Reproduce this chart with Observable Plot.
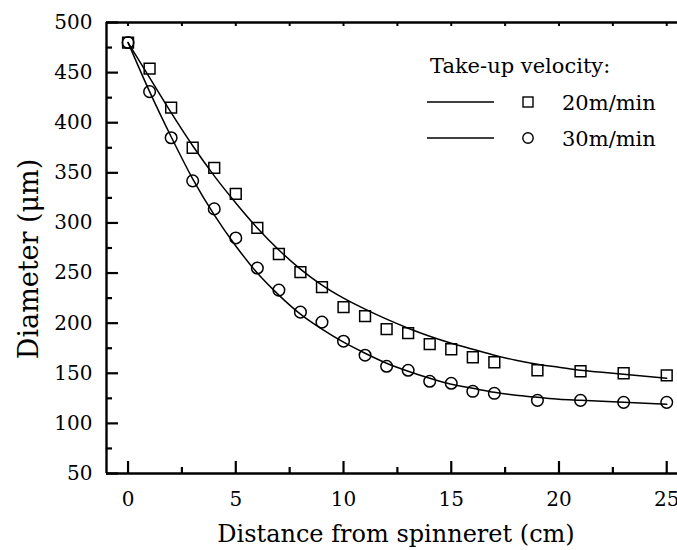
<!DOCTYPE html>
<html>
<head>
<meta charset="utf-8">
<script src="https://cdn.jsdelivr.net/npm/d3@7"></script>
<script src="https://cdn.jsdelivr.net/npm/@observablehq/plot@0.6"></script>
<style>
  html, body { margin: 0; padding: 0; background: #fff; }
  #chart { position: relative; width: 677px; height: 550px; }
  #chart svg, #chart svg text { font-family: "DejaVu Serif", serif !important; }
</style>
</head>
<body>
<div id="chart"></div>
<script>
// Measured points
const distance = [0,1,2,3,4,5,6,7,8,9,10,11,12,13,14,15,16,17,19,21,23,25];
const diameter20 = [480,454,415,375,355,329,295,269,251,236,216,207,194,190,179,174,166,161,153,152,150,148];
const diameter30 = [480,431,385,342,314,285,255,233,211,201,182,168,157,153,142,140,132,130,123,123,121,121];

// Fitted curves
const fitDistance = [0,1,2,3,4,5,6,7,8,9,10,11,12,13,14,15,16,17,18,19,20,21,22,23,24,25];
const fit20 = [480,445,410,377,347,320,295,273,254,238,225,214,204,195,187,180,174,168,163,159,156,153,151,149,147,145];
const fit30 = [480,431,386,344,308,277,250,228,209,194,181,170,160,152,145,139,135,131,128,126,124,123,122,121,120,119];

// Axes
const xMajor = [0,5,10,15,20,25];
const xMinor = [2.5,7.5,12.5,17.5,22.5];
const yMajor = [50,100,150,200,250,300,350,400,450,500];
const yMinor = [75,125,175,225,275,325,375,425,475];

const seriesNames = ["20m/min", "30m/min"];
const legendTitle = "Take-up velocity:";
const xTitle = "Distance from spinneret (cm)";
const yTitle = "Diameter (\u03bcm)";

const pts20 = distance.map((d, i) => ({x: d, y: diameter20[i]}));
const pts30 = distance.map((d, i) => ({x: d, y: diameter30[i]}));
const line20 = fitDistance.map((d, i) => ({x: d, y: fit20[i]}));
const line30 = fitDistance.map((d, i) => ({x: d, y: fit30[i]}));

const W = 677, H = 550, mL = 106, mR = 0, mT = 22, mB = 77;
const fw = W - mL - mR, fh = H - mT - mB;

const plot = Plot.plot({
  width: W, height: H,
  marginLeft: mL, marginRight: mR, marginTop: mT, marginBottom: mB,
  style: {fontSize: "20px", color: "#000", background: "#fff", overflow: "visible"},
  x: {domain: [-1, 25.5]},
  y: {domain: [50, 500]},
  marks: [
    Plot.line(line20, {x: "x", y: "y", curve: "monotone-x", stroke: "#000", strokeWidth: 1.5}),
    Plot.line(line30, {x: "x", y: "y", curve: "monotone-x", stroke: "#000", strokeWidth: 1.5}),
    Plot.dot(pts20, {x: "x", y: "y", symbol: "square", r: 6.1, stroke: "#000", strokeWidth: 1.5, fill: "none"}),
    Plot.dot(pts30, {x: "x", y: "y", symbol: "circle", r: 5.8, stroke: "#000", strokeWidth: 1.5, fill: "none"}),
    // frame lines
    Plot.ruleX([-1], {stroke: "#000", strokeWidth: 2.4}),
    Plot.ruleY([50, 500], {stroke: "#000", strokeWidth: 2.4}),
    // inward ticks bottom
    Plot.tickX(xMajor, {x: d => d, insetTop: fh - 12, stroke: "#000", strokeWidth: 2.2}),
    Plot.tickX(xMinor, {x: d => d, insetTop: fh - 6, stroke: "#000", strokeWidth: 2.2}),
    // top ticks
    Plot.tickX(xMajor.concat(xMinor), {x: d => d, insetBottom: fh - 4, stroke: "#000", strokeWidth: 2}),
    // left ticks
    Plot.tickY(yMajor, {y: d => d, insetRight: fw - 12, stroke: "#000", strokeWidth: 2.2}),
    Plot.tickY(yMinor, {y: d => d, insetRight: fw - 6, stroke: "#000", strokeWidth: 2.2}),
    // tick labels
    Plot.axisX({ticks: xMajor, tickSize: 0, tickPadding: 18, fontSize: 20, label: null}),
    Plot.axisY({ticks: yMajor, tickSize: 0, tickPadding: 14, fontSize: 20, label: null}),
    // titles
    Plot.text([xTitle], {frameAnchor: "bottom", textAnchor: "middle", lineAnchor: "bottom", dy: 68, dx: 4, fontSize: 24, fill: "#000"}),
    Plot.text([yTitle], {frameAnchor: "left", textAnchor: "middle", rotate: -90, lineAnchor: "middle", dx: -77, dy: 11, fontSize: 27, fill: "#000"})
  ]
});

document.getElementById("chart").appendChild(plot);

// Legend
const svg = d3.select(plot);
const lg = svg.append("g").attr("fill", "#000").attr("text-anchor", "start");
lg.append("text").attr("x", 430).attr("y", 73).attr("font-size", 21).text(legendTitle);
const rows = [{y: 102, sym: "square"}, {y: 138, sym: "circle"}];
rows.forEach((r, i) => {
  lg.append("line").attr("x1", 427).attr("x2", 494).attr("y1", r.y).attr("y2", r.y)
    .attr("stroke", "#000").attr("stroke-width", 1.5);
  if (r.sym === "square") {
    lg.append("rect").attr("x", 523).attr("y", r.y - 5).attr("width", 10).attr("height", 10)
      .attr("fill", "none").attr("stroke", "#000").attr("stroke-width", 1.4);
  } else {
    lg.append("circle").attr("cx", 528).attr("cy", r.y).attr("r", 5.2)
      .attr("fill", "none").attr("stroke", "#000").attr("stroke-width", 1.4);
  }
  lg.append("text").attr("x", 562).attr("y", r.y + 7.5).attr("font-size", 21).text(seriesNames[i]);
});
</script>
</body>
</html>
